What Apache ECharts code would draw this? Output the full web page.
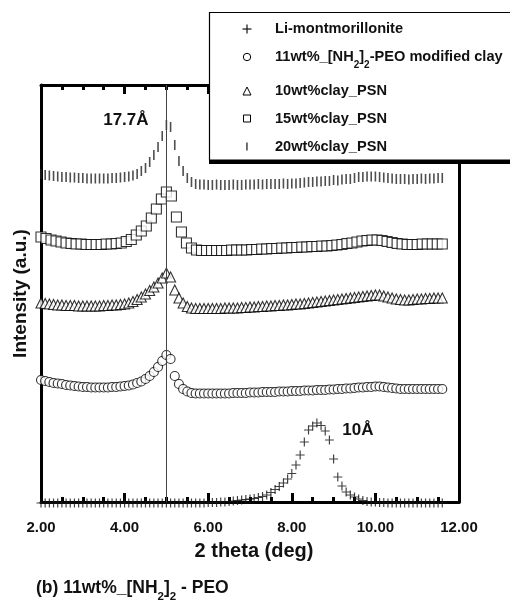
<!DOCTYPE html>
<html>
<head>
<meta charset="utf-8">
<script src="https://cdn.jsdelivr.net/npm/echarts@6/dist/echarts.min.js"></script>
<style>
  html, body { margin: 0; padding: 0; background: #fff; }
  #chart { width: 510px; height: 602px; }
</style>
</head>
<body>
<div id="chart"></div>
<script>
// scan grid of each pattern (2 theta, deg)
const scanStart = 2.0
const fineStep = 0.1
const squareStep = 0.12

// Li-montmorillonite, 2.0 .. 11.6 step 0.1
const liMont = [
  -1, -1, -1, -1, -1, -1, -1, -1, -1, -1,
  -1, -1, -1, -1, -1, -1, -1, -1, -1, -1,
  -1, -1, -1, -1, -1, -1, -1, -1, -1, -1,
  -1, -1, -1, -1, -1, -1, -1, -1, -1, -1,
  -0.5, -0.5, -0.5, 0, 0, 0.5, 1, 1.5, 2, 2.5,
  3, 3.5, 4.5, 5.5, 7, 9.5, 12.5, 15.5, 19, 23,
  28.5, 37, 47, 60, 72, 76, 79, 76.5, 71, 62,
  43, 25, 16, 10, 7, 5, 3, 1.5, 0.5, 0,
  0, -0.5, -0.5, -1, -1, -1, -1, -1, -1, -1,
  -1, -1, -1, -1, -1, -1, -1
]
// 11wt%_[NH2]2-PEO modified clay, 2.0 .. 11.6 step 0.1
const peoClay = [
  122, 121, 120, 119, 118.5, 118, 117, 116.5, 116, 115.5,
  115, 115, 114.5, 114.5, 114.5, 114.5, 114.5, 115, 115, 115.5,
  116, 116.5, 117.5, 119, 120.5, 123, 126, 130, 135, 141,
  147, 143, 126, 118, 113, 110.5, 109, 108.5, 108.5, 108.5,
  108.5, 108.5, 108.5, 108.5, 108.5, 108.5, 109, 109, 109, 109,
  109.5, 109.5, 109.5, 110, 110, 110, 110, 110.5, 110.5, 110.5,
  111, 111, 111, 111.5, 111.5, 111.5, 112, 112, 112, 112.5,
  112.5, 113, 113, 113.5, 113.5, 114, 114.5, 114.5, 115, 115,
  115.5, 115.5, 115, 114.5, 114, 113.5, 113, 113, 113, 113,
  113, 113, 113, 113, 113, 113, 113
]
// 10wt%clay_PSN, 2.0 .. 11.6 step 0.1
const psn10 = [
  199, 198.5, 198, 197.5, 197, 197, 196.5, 196.5, 196.5, 196,
  196, 196, 196, 196, 196, 196.5, 196.5, 197, 197, 197.5,
  198, 199, 200.5, 202.5, 205, 208, 211.5, 215, 219, 224,
  229, 225, 212, 204, 199, 195.5, 194, 193.5, 193.5, 193.5,
  193.5, 193.5, 193.5, 193.5, 194, 194, 194, 194, 194.5, 194.5,
  195, 195, 195.5, 195.5, 196, 196, 196.5, 196.5, 197, 197,
  197.5, 198, 198, 198.5, 199, 199.5, 200, 200.5, 201, 201.5,
  202, 202.5, 203, 203.5, 204, 204.5, 205, 205.5, 206, 206.5,
  207, 207, 206, 205, 204, 203, 202.5, 202, 202, 202.5,
  203, 203, 203.5, 203.5, 204, 204, 204
]
// 15wt%clay_PSN, 2.0 .. 11.6 step 0.12
const psn15 = [
  265, 263.5, 262, 261, 260, 259, 258.5, 258, 258, 257.5,
  257.5, 257.5, 257.5, 258, 258, 258.5, 259, 260.5, 262.5, 267,
  271, 276, 284, 293, 303, 310, 306, 285, 270, 259,
  254, 252, 251.5, 251.5, 251.5, 251.5, 251.5, 251.5, 252, 252,
  252, 252, 252.5, 252.5, 253, 253, 253.5, 253.5, 254, 254,
  254.5, 254.5, 255, 255, 255.5, 255.5, 256, 256, 256.5, 257,
  257.5, 258.5, 259, 260, 261, 261.5, 262, 262, 261.5, 260.5,
  259.5, 258.5, 258, 257.5, 257.5, 257.5, 258, 258, 258, 258,
  258
]
// 20wt%clay_PSN, 2.0 .. 11.6 step 0.1
const psn20 = [
  328, 327, 326.5, 326, 325.5, 325, 325, 324.5, 324.5, 324,
  324, 323.5, 323.5, 323.5, 323.5, 323.5, 323.5, 324, 324, 324.5,
  325, 325.5, 326.5, 328, 331, 334, 340, 347, 355, 366,
  377, 375, 357, 341, 331, 324, 320, 318, 317.5, 317.5,
  317, 317, 317.5, 317, 317, 317, 317.5, 317, 317, 317.5,
  317.5, 317.5, 318, 317.5, 318, 318, 318, 318, 318.5, 318,
  318.5, 318.5, 319, 319.5, 320, 320, 320.5, 320.5, 321, 321,
  322, 321.5, 322.5, 323, 323, 324, 325, 325, 325.5, 325.5,
  325.5, 325, 324.5, 324, 323.5, 323, 323, 323, 322.5, 323,
  323, 323.5, 323, 323.5, 323.5, 324, 324
]

const seriesNames = ['Li-montmorillonite', '11wt%_[NH2]2-PEO modified clay', '10wt%clay_PSN', '15wt%clay_PSN', '20wt%clay_PSN']
const xTicks = { min: 2, max: 12, interval: 2 }
const refAngle = 4.99 // 17.7 A reflection

const font = '"Liberation Sans", Arial, Helvetica, sans-serif'
const plusPath = 'path://M4.35,0h1.3v10h-1.3zM0,4.35h10v1.3h-10z'

function toPoints(start, step, values) {
  return values.map((v, i) => [Math.round((start + i * step) * 100) / 100, v])
}

const frameAxis = {
  type: 'value',
  min: xTicks.min,
  max: xTicks.max,
  interval: xTicks.interval,
  axisLine: { show: true, onZero: false, lineStyle: { color: '#000', width: 3 } },
  axisTick: { show: true, inside: true, length: 9, lineStyle: { color: '#000', width: 3 } },
  minorTick: { show: true, splitNumber: 4, length: 5, lineStyle: { color: '#000', width: 3 } },
  splitLine: { show: false },
  minorSplitLine: { show: false }
}

const hollow = { color: '#fff', borderColor: '#000', borderWidth: 1.1 }

const chart = echarts.init(document.getElementById('chart'))
chart.setOption({
  backgroundColor: '#fff',
  animation: false,
  textStyle: { fontFamily: font },
  grid: { left: 41, right: 51, top: 85, bottom: 100 },
  xAxis: [
    Object.assign({}, frameAxis, {
      position: 'bottom',
      axisLabel: {
        margin: 18,
        fontSize: 15,
        fontWeight: 'bold',
        color: '#111',
        fontFamily: font,
        formatter: v => v.toFixed(2)
      },
      name: '2 theta (deg)',
      nameLocation: 'middle',
      nameGap: 39,
      nameTextStyle: { fontSize: 20, fontWeight: 'bold', color: '#111', fontFamily: font, padding: [0, 0, 0, 8] }
    }),
    Object.assign({}, frameAxis, {
      position: 'top',
      axisLabel: { show: false }
    })
  ],
  yAxis: [
    {
      type: 'value',
      min: 0,
      max: 417,
      position: 'left',
      axisLine: { show: true, onZero: false, lineStyle: { color: '#000', width: 3 } },
      axisTick: { show: false },
      axisLabel: { show: false },
      splitLine: { show: false },
      name: 'Intensity (a.u.)',
      nameLocation: 'middle',
      nameRotate: 90,
      nameGap: 11,
      nameTextStyle: { fontSize: 19, fontWeight: 'bold', color: '#111', fontFamily: font }
    },
    {
      type: 'value',
      min: 0,
      max: 417,
      position: 'right',
      axisLine: { show: true, onZero: false, lineStyle: { color: '#000', width: 3 } },
      axisTick: { show: false },
      axisLabel: { show: false },
      splitLine: { show: false }
    }
  ],
  series: [
    {
      name: seriesNames[0],
      type: 'scatter',
      clip: false,
      symbol: plusPath,
      symbolSize: 9,
      itemStyle: { color: '#111' },
      data: toPoints(scanStart, fineStep, liMont),
      markPoint: {
        silent: true,
        symbol: 'circle',
        symbolSize: 0,
        label: { show: true, position: 'inside', formatter: '10Å', fontSize: 17, fontWeight: 'bold', color: '#111', fontFamily: font },
        data: [{ coord: [9.58, 72] }]
      }
    },
    {
      name: seriesNames[1],
      type: 'scatter',
      symbol: 'circle',
      symbolSize: 9,
      itemStyle: hollow,
      data: toPoints(scanStart, fineStep, peoClay)
    },
    {
      name: seriesNames[2],
      type: 'scatter',
      symbol: 'triangle',
      symbolSize: 10,
      itemStyle: hollow,
      data: toPoints(scanStart, fineStep, psn10)
    },
    {
      name: seriesNames[3],
      type: 'scatter',
      symbol: 'rect',
      symbolSize: 10,
      itemStyle: hollow,
      data: toPoints(scanStart, squareStep, psn15)
    },
    {
      name: seriesNames[4],
      type: 'scatter',
      symbol: 'rect',
      symbolSize: [1.6, 10],
      itemStyle: { color: '#222' },
      data: toPoints(scanStart, fineStep, psn20),
      markLine: {
        silent: true,
        symbol: 'none',
        label: { show: false },
        lineStyle: { color: '#444', width: 1, type: 'solid' },
        data: [{ xAxis: refAngle }]
      },
      markPoint: {
        silent: true,
        symbol: 'circle',
        symbolSize: 0,
        label: { show: true, position: 'inside', formatter: '17.7Å', fontSize: 17, fontWeight: 'bold', color: '#111', fontFamily: font },
        data: [{ coord: [4.03, 382] }]
      }
    }
  ],
  graphic: [
    // legend box with drop shadow
    { type: 'rect', z: 100, shape: { x: 209, y: 15, width: 320, height: 149 }, style: { fill: '#000' } },
    { type: 'rect', z: 101, shape: { x: 209.5, y: 12.5, width: 320, height: 147.5 }, style: { fill: '#fff', stroke: '#000', lineWidth: 1.2 } },
    // legend markers
    { type: 'rect', z: 102, shape: { x: 242.5, y: 28.4, width: 9, height: 1.2 }, style: { fill: '#111' } },
    { type: 'rect', z: 102, shape: { x: 246.4, y: 24.5, width: 1.2, height: 9 }, style: { fill: '#111' } },
    { type: 'circle', z: 102, shape: { cx: 247, cy: 57, r: 3.7 }, style: { fill: '#fff', stroke: '#000', lineWidth: 1 } },
    { type: 'polygon', z: 102, shape: { points: [[247, 87], [251, 95], [243, 95]] }, style: { fill: '#fff', stroke: '#000', lineWidth: 1 } },
    { type: 'rect', z: 102, shape: { x: 243.5, y: 115, width: 7, height: 7 }, style: { fill: '#fff', stroke: '#000', lineWidth: 1 } },
    { type: 'rect', z: 102, shape: { x: 246.3, y: 142.5, width: 1.3, height: 8 }, style: { fill: '#222' } },
    // legend texts
    { type: 'text', z: 102, x: 275, y: 29, style: { text: 'Li-montmorillonite', font: 'bold 14.6px ' + font, fill: '#111', verticalAlign: 'middle' } },
    {
      type: 'text', z: 102, x: 275, y: 57,
      style: {
        text: '11wt%_[NH{s|2}]{s|2}-PEO modified clay',
        font: 'bold 14.6px ' + font, fill: '#111', verticalAlign: 'middle', lineHeight: 26,
        rich: { s: { fontSize: 10, fontWeight: 'bold', fontFamily: font, lineHeight: 10, verticalAlign: 'bottom', fill: '#111' } }
      }
    },
    { type: 'text', z: 102, x: 275, y: 91, style: { text: '10wt%clay_PSN', font: 'bold 14.6px ' + font, fill: '#111', verticalAlign: 'middle' } },
    { type: 'text', z: 102, x: 275, y: 118.5, style: { text: '15wt%clay_PSN', font: 'bold 14.6px ' + font, fill: '#111', verticalAlign: 'middle' } },
    { type: 'text', z: 102, x: 275, y: 146.5, style: { text: '20wt%clay_PSN', font: 'bold 14.6px ' + font, fill: '#111', verticalAlign: 'middle' } },
    // panel caption
    {
      type: 'text', z: 102, x: 36, y: 588,
      style: {
        text: '(b) 11wt%_[NH{s|2}]{s|2} - PEO',
        font: 'bold 17.5px ' + font, fill: '#111', verticalAlign: 'middle', lineHeight: 30,
        rich: { s: { fontSize: 11.5, fontWeight: 'bold', fontFamily: font, lineHeight: 12, verticalAlign: 'bottom', fill: '#111' } }
      }
    }
  ]
})
</script>
</body>
</html>
